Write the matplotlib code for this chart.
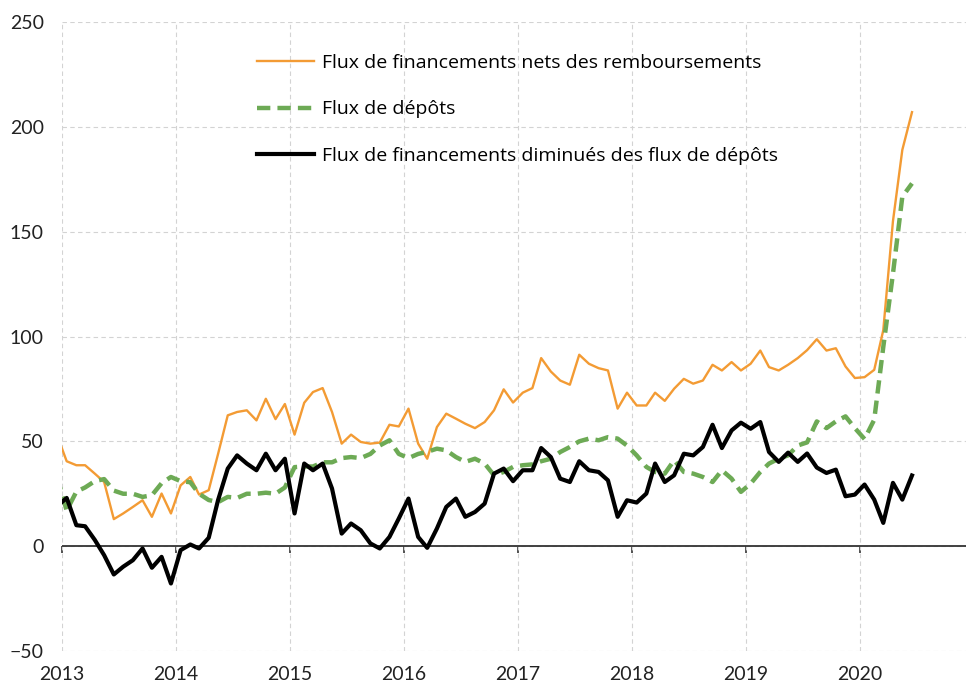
import pandas as pd
import matplotlib
matplotlib.use("Agg")
import matplotlib.pyplot as plt
import matplotlib.dates as mdates

plt.rcParams['font.family'] = ['Lato', 'DejaVu Sans']

# monthly points, Dec 2012 -> Jun 2020 (plotted mid-month)
months = pd.date_range("2012-12-01", "2020-06-01", freq="MS") + pd.Timedelta(days=15)

financements = [53,
    40.5, 38.6, 38.6, 34.6, 30.6, 12.9, 15.6, 18.7, 21.9, 14.0, 25.1, 15.6,
    29.0, 33.0, 24.6, 26.7, 44.0, 62.4, 64.0, 64.8, 60.0, 70.3, 60.6, 67.8,
    53.2, 68.4, 73.5, 75.4, 64.0, 48.9, 53.2, 49.7, 48.9, 49.4, 57.9, 57.1,
    65.6, 48.9, 41.7, 56.8, 63.2, 60.8, 58.4, 56.3, 59.2, 64.8, 74.8, 68.5,
    73.2, 75.4, 89.7, 83.3, 79.0, 77.0, 91.3, 87.0, 84.9, 83.8, 65.6, 73.2,
    67.1, 67.1, 73.2, 69.3, 75.1, 79.8, 77.5, 79.0, 86.5, 83.8, 87.8, 83.8,
    87.0, 93.3, 85.4, 83.8, 86.5, 89.7, 93.5, 98.7, 93.3, 94.4, 85.7, 80.2,
    80.6, 84.1, 103.0, 155.0, 189.0, 207.0]

depots = [33,
    17.0, 26.0, 28.0, 31.0, 32.0, 26.5, 25.0, 25.0, 23.5, 24.3, 30.0, 33.0,
    31.0, 30.5, 25.0, 22.0, 21.0, 23.5, 23.0, 25.0, 25.0, 25.5, 25.0, 28.0,
    37.7, 38.0, 38.0, 40.0, 40.0, 42.0, 42.5, 42.0, 44.0, 48.0, 50.5, 44.0,
    42.0, 44.0, 45.0, 46.5, 45.7, 42.5, 40.2, 41.7, 39.4, 33.8, 35.4, 37.8,
    38.6, 39.0, 40.5, 41.7, 44.9, 47.3, 50.0, 51.3, 50.5, 52.0, 51.3, 48.0,
    43.3, 37.8, 35.4, 34.6, 41.0, 35.4, 34.6, 33.0, 30.6, 36.2, 32.2, 25.9,
    29.8, 35.4, 39.4, 41.7, 43.3, 48.0, 49.5, 59.5, 56.3, 59.5, 61.9, 56.3,
    51.1, 60.3, 95.0, 130.0, 166.7, 173.0]

diminues = [19,
    23.0, 10.0, 9.5, 3.0, -4.3, -13.5, -9.8, -6.7, -1.1, -10.3, -5.1, -17.8,
    -1.9, 0.8, -1.1, 4.0, 22.0, 37.0, 43.3, 39.4, 36.2, 44.1, 36.2, 41.7,
    15.6, 39.4, 36.2, 39.4, 27.5, 6.0, 10.8, 7.6, 1.3, -1.1, 4.4, 13.2,
    22.7, 4.4, -0.8, 8.4, 18.7, 22.7, 14.0, 16.3, 20.3, 34.6, 37.0, 31.0,
    36.2, 36.2, 46.8, 42.5, 32.2, 30.6, 40.5, 36.2, 35.4, 31.4, 14.0, 21.9,
    20.8, 25.1, 39.4, 30.6, 33.8, 44.1, 43.3, 47.3, 57.9, 46.8, 55.2, 58.9,
    56.0, 59.2, 44.9, 40.2, 44.6, 40.2, 44.2, 37.5, 34.9, 36.5, 23.8, 24.6,
    29.4, 22.2, 11.1, 30.2, 22.2, 33.7]

labels = ["Flux de financements nets des remboursements",
          "Flux de dépôts",
          "Flux de financements diminués des flux de dépôts"]

fig = plt.figure(figsize=(9.66, 6.86), dpi=100)
ax = fig.add_axes([62 / 966, 1 - 651 / 686, 1 - 62 / 966, (651 - 22) / 686])

ax.plot(months, financements, color="#F39B34", lw=1.7, label=labels[0])
ax.plot(months, depots, color="#6DAA55", lw=3.2, dashes=(3.0, 1.6), label=labels[1])
ax.plot(months, diminues, color="black", lw=3.0, label=labels[2])

ax.axhline(0, color="#333333", lw=1.3, zorder=1)

ax.set_ylim(-50, 250)
ax.set_yticks(range(-50, 251, 50))
ax.set_xlim(pd.Timestamp("2013-01-01"), pd.Timestamp("2020-12-06"))
ax.xaxis.set_major_locator(mdates.YearLocator())
ax.xaxis.set_major_formatter(mdates.DateFormatter("%Y"))

for s in ax.spines.values():
    s.set_visible(False)
ax.grid(True, color="#D3D3D3", ls=(0, (4, 3)), lw=0.8)
ax.set_axisbelow(True)
ax.tick_params(axis="both", length=0, labelsize=14, colors="#222222")
ax.tick_params(axis="y", pad=13)
ax.tick_params(axis="x", pad=11)

# small year ticks on the zero line
sec = ax.secondary_xaxis(50 / 300)
sec.xaxis.set_major_locator(mdates.YearLocator())
sec.tick_params(length=5, width=1.2, color="#333333", labelbottom=False)
sec.spines["bottom"].set_visible(False)

leg = ax.legend(loc="upper left", bbox_to_anchor=(257 / 966, 1 - 54 / 686),
                bbox_transform=fig.transFigure, frameon=False,
                prop={"family": ["Open Sans", "DejaVu Sans"], "size": 14},
                handlelength=2.95, handletextpad=0.4, labelspacing=1.46,
                borderaxespad=0, borderpad=0)

fig.savefig("out.png", dpi=100)
